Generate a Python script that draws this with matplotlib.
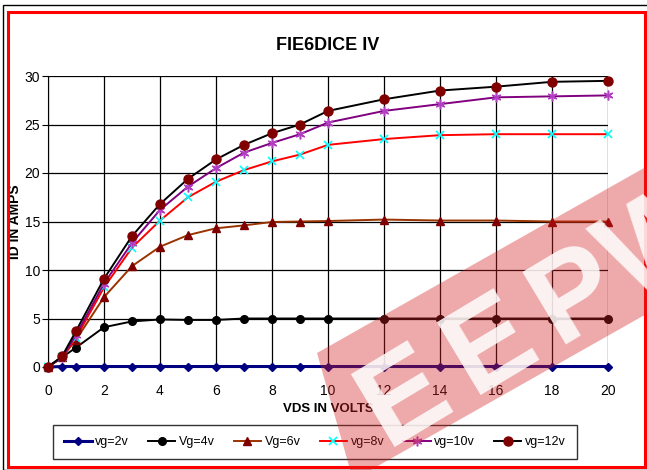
import numpy as np
import matplotlib
matplotlib.use('Agg')
import matplotlib.pyplot as plt
from matplotlib.patches import Rectangle, Polygon

plt.rcParams['font.family'] = ['Liberation Sans', 'DejaVu Sans']

# drain voltage points (V)
vds = [0, 0.5, 1, 2, 3, 4, 5, 6, 7, 8, 9, 10, 12, 14, 16, 18, 20]

# drain current (A) for each gate voltage
vg2 = [0, 0.05, 0.05, 0.05, 0.05, 0.05, 0.05, 0.05, 0.05, 0.05, 0.05, 0.05, 0.05, 0.05, 0.05, 0.05, 0.05]
vg4 = [0, 1.0, 2.0, 4.1, 4.7, 4.9, 4.85, 4.85, 5.0, 5.0, 5.0, 5.0, 5.0, 5.0, 5.0, 5.0, 5.0]
vg6 = [0, 1.0, 2.8, 7.2, 10.4, 12.4, 13.6, 14.3, 14.6, 14.95, 15.0, 15.05, 15.2, 15.1, 15.1, 15.0, 15.0]
vg8 = [0, 1.0, 3.0, 8.2, 12.3, 15.1, 17.5, 19.1, 20.3, 21.2, 21.9, 22.9, 23.5, 23.9, 24.0, 24.0, 24.0]
vg10 = [0, 1.0, 3.3, 8.6, 12.8, 16.2, 18.6, 20.5, 22.1, 23.1, 24.0, 25.2, 26.4, 27.1, 27.8, 27.9, 28.0]
vg12 = [0, 1.1, 3.7, 9.1, 13.5, 16.8, 19.4, 21.4, 22.9, 24.1, 25.0, 26.4, 27.6, 28.5, 28.9, 29.4, 29.5]

labels = ['vg=2v', 'Vg=4v', 'Vg=6v', 'vg=8v', 'vg=10v', 'vg=12v']
W, H = 647, 470

fig = plt.figure(figsize=(W / 100, H / 100), dpi=100)
ax = fig.add_axes([48 / W, 1 - 367 / H, 560 / W, 291 / H])

# series styles, excel-like
ax.plot(vds, vg2, color='#000080', lw=2.2, marker='D', ms=4.5, mfc='#000080', mec='#000080', label=labels[0], clip_on=False, zorder=3)
ax.plot(vds, vg4, color='black', lw=1.4, marker='o', ms=5.5, mfc='black', mec='black', label=labels[1], clip_on=False, zorder=4)
ax.plot(vds, vg6, color='#993300', lw=1.4, marker='^', ms=5.5, mfc='#800000', mec='#800000', label=labels[2], clip_on=False, zorder=4)
ax.plot(vds, vg8, color='red', lw=1.4, marker='x', ms=6, mew=1.2, mec='cyan', label=labels[3], clip_on=False, zorder=4)
ax.plot(vds, vg10, color='#800080', lw=1.4, marker=(6, 2, 0), ms=7, mew=1.1, mec='#b040c0', label=labels[4], clip_on=False, zorder=4)
ax.plot(vds, vg12, color='black', lw=1.4, marker='o', ms=6.5, mfc='#800000', mec='#800000', label=labels[5], clip_on=False, zorder=5)

ax.set_xlim(0, 20)
ax.set_ylim(0, 30)
ax.set_xticks(np.arange(0, 21, 2))
ax.set_yticks(np.arange(0, 31, 5))
ax.grid(True, color='black', lw=0.9)
ax.set_axisbelow(True)
for s in ['top', 'right', 'bottom']:
    ax.spines[s].set_visible(False)
ax.spines['left'].set_color('black')
ax.tick_params(axis='x', length=0, pad=12, labelsize=10)
ax.tick_params(axis='y', length=4.5, pad=1, labelsize=10)

ax.set_title('FIE6DICE IV', fontsize=13, fontweight='bold', pad=19)
ax.set_xlabel('VDS IN VOLTS', fontsize=9.5, fontweight='bold', labelpad=4)
ax.set_ylabel('ID IN AMPS', fontsize=10, fontweight='bold')
ax.yaxis.set_label_coords(-0.047, 0.5)

leg = fig.legend(loc='center', bbox_to_anchor=(315 / W, 1 - 442 / H), ncol=6,
                 fontsize=9, frameon=True, fancybox=False, edgecolor='black',
                 handlelength=2.2, columnspacing=1.5, handletextpad=0.3, borderpad=0.9)
leg.get_frame().set_linewidth(1.0)

# outer frames
fig.add_artist(Rectangle((3 / W, 0), 1.0, 1 - 5 / H, transform=fig.transFigure,
                         fill=False, ec='black', lw=1.0, zorder=1))
fig.add_artist(Rectangle((8 / W, 3 / H), 637 / W, 1 - 15 / H, transform=fig.transFigure,
                         fill=False, ec='red', lw=2.2, zorder=1))

# watermark band with letters
th = np.deg2rad(29.5)
d = np.array([np.cos(th), -np.sin(th)])
A = np.array([317, 353])
B = np.array([353, 480])
band = np.array([A, B, B + 500 * d, A + 500 * d])
band_fig = np.column_stack([band[:, 0] / W, 1 - band[:, 1] / H])
fig.add_artist(Polygon(band_fig, closed=True, transform=fig.transFigure,
                       fc='#d42020', ec='none', alpha=0.38, zorder=10))

tl = np.deg2rad(31)
dl = np.array([np.cos(tl), -np.sin(tl)])
nl = np.array([np.sin(tl), np.cos(tl)])
C0 = np.array([400, 390])
for i, ch in enumerate('EEPW'):
    p = C0 + i * 100 * dl + 42 * nl
    fig.text(p[0] / W, 1 - p[1] / H, ch, rotation=31, ha='center', va='baseline',
             rotation_mode='anchor', fontsize=88, fontweight='bold', color='white',
             alpha=0.85, zorder=11)

fig.savefig('out.png', dpi=100)
